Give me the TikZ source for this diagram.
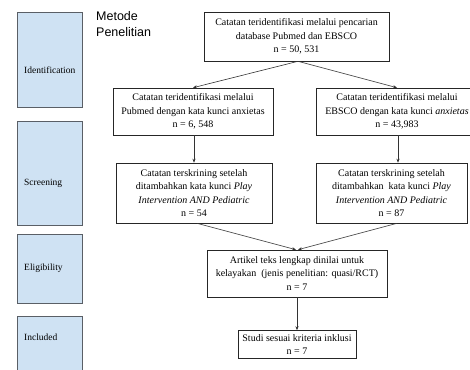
\documentclass[tikz,border=0pt]{standalone}
\usepackage{fontspec}
\setmainfont{Liberation Serif}
\setsansfont{Liberation Sans}
\usetikzlibrary{arrows.meta}
\definecolor{stageblue}{HTML}{CFE2F3}
\definecolor{stageline}{HTML}{5A5F66}
\begin{document}
\begin{tikzpicture}[x=1pt,y=-1pt,
  stage/.style={draw=stageline,fill=stageblue,line width=0.8pt},
  stagelabel/.style={anchor=west,inner sep=0pt,font=\fontsize{9.5}{12}\selectfont},
  flowbox/.style={draw=black!85,line width=0.6pt,inner sep=0pt,align=center,
    font=\fontsize{10}{13.5}\selectfont},
  flowarrow/.style={draw=black!80,line width=0.6pt,-{Stealth[length=4pt,width=3.2pt]}}]
\useasboundingbox (0,0) rectangle (470,369);
\clip (0,0) rectangle (470,369);
% stage column
\draw[stage] (17,12) rectangle (82,107);
\draw[stage] (17,121) rectangle (82,225);
\draw[stage] (17,234) rectangle (82,303);
\draw[stage] (17,316) rectangle (82,390);
\node[stagelabel] (sid) at (24,70) {Identification};
\node[stagelabel] (ssc) at (24,183) {Screening};
\node[stagelabel] (sel) at (24,268) {Eligibility};
\node[stagelabel] (sin) at (24,337) {Included};
% title
\node[anchor=north west,inner sep=0pt,align=left,font=\sffamily\fontsize{12.5}{16.5}\selectfont] (title) at (96,11) {Metode\\Penelitian};
% flow boxes
\node[flowbox,minimum width=185pt,minimum height=49pt] (top) at (296.5,36.5)
  {Catatan teridentifikasi melalui pencarian\\database Pubmed dan EBSCO\\n = 50, 531};
\node[flowbox,minimum width=160pt,minimum height=47pt] (pub) at (193,111.5)
  {Catatan teridentifikasi melalui\\Pubmed dengan kata kunci anxietas\\n = 6, 548};
\node[flowbox,minimum width=162pt,minimum height=47pt] (ebs) at (397,111.5)
  {Catatan teridentifikasi melalui\\EBSCO dengan kata kunci \textit{anxietas}\\n = 43,983};
\node[flowbox,minimum width=156pt,minimum height=60pt] (scl) at (194,193)
  {Catatan terskrining setelah\\ditambahkan kata kunci \textit{Play}\\\textit{Intervention AND Pediatric}\\n = 54};
\node[flowbox,minimum width=151pt,minimum height=60pt] (scr) at (391.5,193)
  {Catatan terskrining setelah\\ditambahkan\ \ kata kunci \textit{Play}\\\textit{Intervention AND Pediatric}\\n = 87};
\node[flowbox,minimum width=180pt,minimum height=47pt] (eli) at (297,273.5)
  {Artikel teks lengkap dinilai untuk\\kelayakan\ \ (jenis penelitian: quasi/RCT)\\n = 7};
\node[flowbox,minimum width=118pt,minimum height=28pt] (inc) at (297,344.5)
  {Studi sesuai kriteria inklusi\\n = 7};
% connectors
\draw[flowarrow] ([xshift=1.5pt]top.south) -- (pub.north);
\draw[flowarrow] ([xshift=1.5pt]top.south) -- (ebs.north);
\draw[flowarrow] ([xshift=1pt]pub.south) -- ([xshift=1pt]scl.north -| pub.south);
\draw[flowarrow] ([xshift=1pt]ebs.south) -- ([xshift=1pt]scr.north -| ebs.south);
\draw[flowarrow] ([xshift=3pt]scl.south) -- ([xshift=-1pt]eli.north);
\draw[flowarrow] ([xshift=5.5pt]scr.south) -- ([xshift=1pt]eli.north);
\draw[flowarrow] (eli.south) -- (inc.north);
\end{tikzpicture}
\end{document}
